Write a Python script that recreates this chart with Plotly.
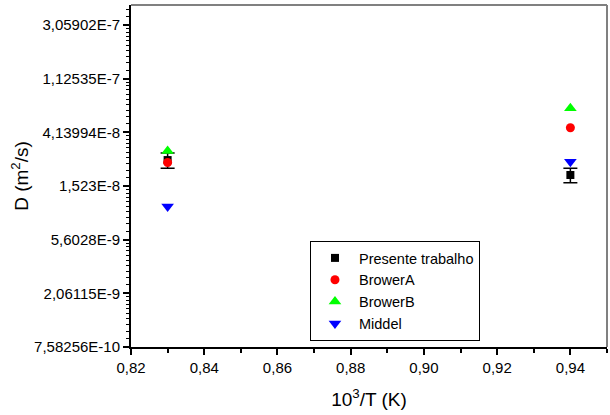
import math
import plotly.graph_objects as go

# ---- data ----
x_vals = [0.83, 0.94]
presente = [2.47e-8, 1.87e-8]
presente_err = [0.35e-8, 0.25e-8]
brower_a = [2.36e-8, 4.51e-8]
brower_b = [2.93e-8, 6.48e-8]
middel = [1.04e-8, 2.39e-8]

y_tick_exps = [-21, -20, -19, -18, -17, -16, -15]
y_tick_text = ["7,58256E-10", "2,06115E-9", "5,6028E-9", "1,523E-8",
               "4,13994E-8", "1,12535E-7", "3,05902E-7"]
x_tick_vals = [0.82, 0.84, 0.86, 0.88, 0.90, 0.92, 0.94]
x_tick_text = ["0,82", "0,84", "0,86", "0,88", "0,90", "0,92", "0,94"]

# ---- figure ----
fig = go.Figure()
fig.add_trace(go.Scatter(
    x=x_vals, y=presente, mode="markers", name="Presente trabalho",
    marker=dict(symbol="square", size=8, color="black"),
    error_y=dict(type="data", array=presente_err, visible=True,
                 color="black", thickness=1.5, width=7)))
fig.add_trace(go.Scatter(
    x=x_vals, y=brower_a, mode="markers", name="BrowerA",
    marker=dict(symbol="circle", size=9, color="#ff0000")))
fig.add_trace(go.Scatter(
    x=x_vals, y=brower_b, mode="markers", name="BrowerB",
    marker=dict(symbol="triangle-up", size=11, color="#00ff00")))
fig.add_trace(go.Scatter(
    x=x_vals, y=middel, mode="markers", name="Middel",
    marker=dict(symbol="triangle-down", size=11, color="#0000ff")))

y_tick_vals = [math.exp(e) for e in y_tick_exps]
minor_vals = []
for e in y_tick_exps[:-1]:
    lo, hi = math.exp(e), math.exp(e + 1)
    for i in range(1, 10):
        minor_vals.append(lo + i * (hi - lo) / 10)
top = math.exp(-14.627)
lo, hi = math.exp(-15), math.exp(-14)
for i in range(1, 10):
    v = lo + i * (hi - lo) / 10
    if v < top:
        minor_vals.append(v)

font = "Liberation Sans, Arial, sans-serif"
fig.update_layout(
    width=610, height=415,
    margin=dict(l=131, r=3, t=5, b=68),
    paper_bgcolor="white", plot_bgcolor="white",
    font=dict(family=font, size=15, color="black"),
    showlegend=True,
    legend=dict(x=0.376, y=0.31, xanchor="left", yanchor="top",
                bordercolor="black", borderwidth=1, bgcolor="white",
                font=dict(size=14.5), itemwidth=38, tracegroupgap=0),
    xaxis=dict(
        range=[0.82, 0.95], tickmode="array", tickvals=x_tick_vals,
        ticktext=x_tick_text, ticks="outside", ticklen=6, tickwidth=1.5,
        tickcolor="black", showline=True, linecolor="black", linewidth=2,
        showgrid=False, zeroline=False, tickfont=dict(size=15),
        minor=dict(tickvals=[0.83, 0.85, 0.87, 0.89, 0.91, 0.93, 0.95],
                   ticks="outside", ticklen=4, tickwidth=1.5, tickcolor="black"),
        title=dict(text="10<sup>3</sup>/T (K)", font=dict(size=19), standoff=18)),
    yaxis=dict(
        type="log", range=[-21 / math.log(10), -14.627 / math.log(10)],
        tickmode="array", tickvals=y_tick_vals, ticktext=y_tick_text,
        ticks="outside", ticklen=6, tickwidth=1.5, tickcolor="black",
        showline=True, linecolor="black", linewidth=2,
        showgrid=False, zeroline=False, tickfont=dict(size=15),
        minor=dict(tickvals=minor_vals, ticks="outside", ticklen=3,
                   tickwidth=1, tickcolor="black"),
        title=dict(text="D (m<sup>2</sup>/s)", font=dict(size=19), standoff=0)),
    shapes=[
        dict(type="line", xref="paper", yref="paper", x0=0, x1=1, y0=1, y1=1,
             line=dict(color="#808080", width=2)),
        dict(type="line", xref="paper", yref="paper", x0=1, x1=1, y0=0, y1=1,
             line=dict(color="#808080", width=2)),
    ],
)

fig.write_html("out.html")
